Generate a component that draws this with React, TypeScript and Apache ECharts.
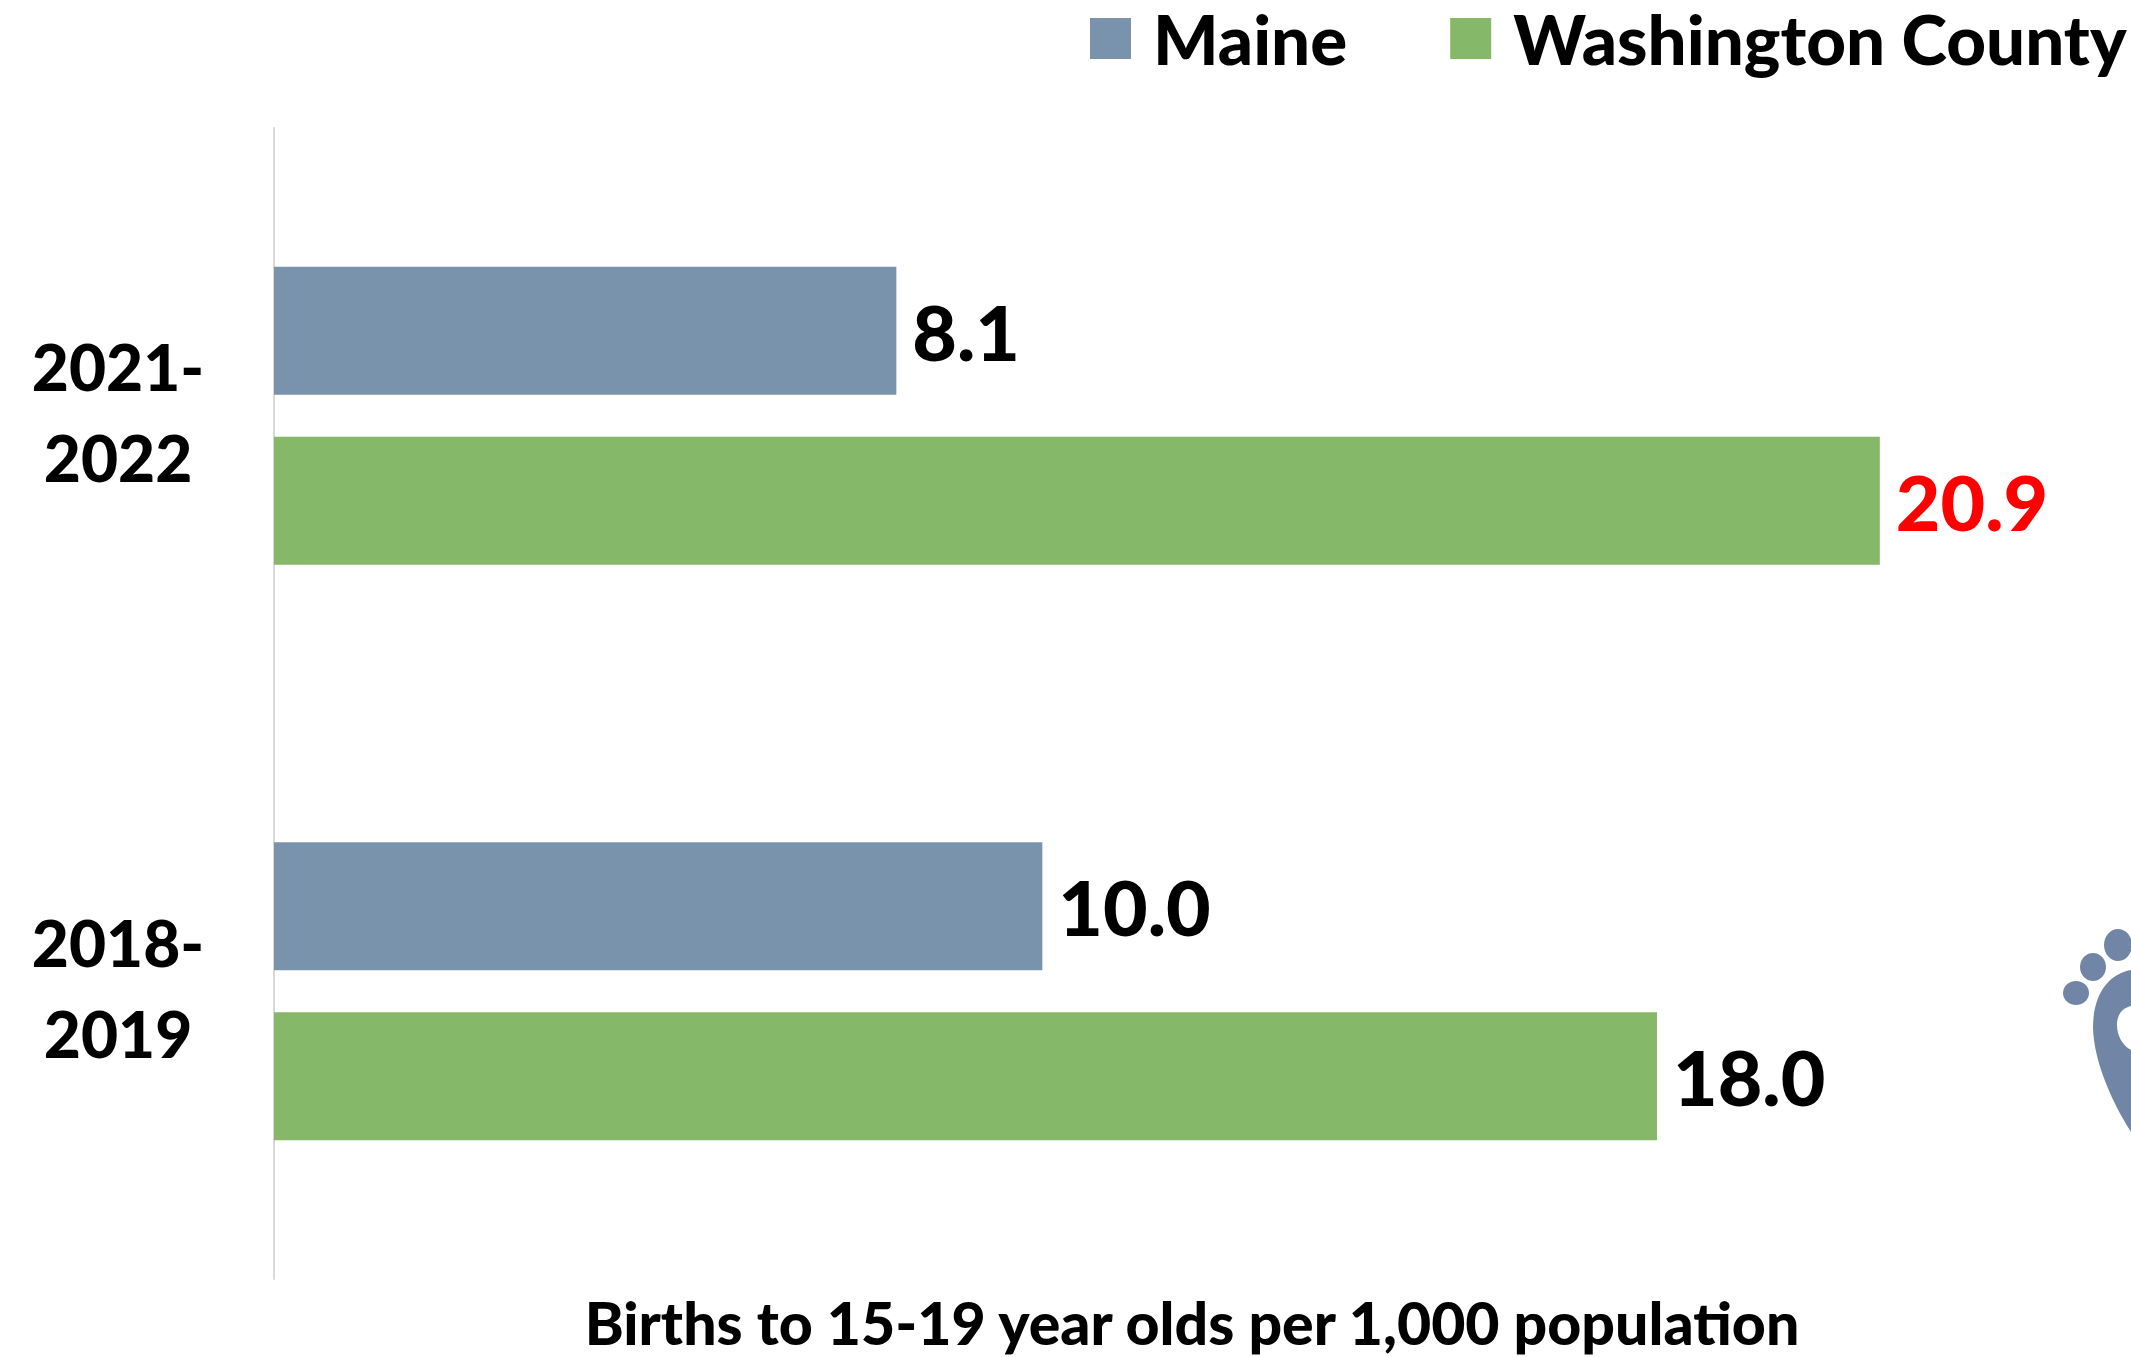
import React, { useEffect, useRef } from "react";
import * as echarts from "echarts";

const categories = ["2021-\n2022", "2018-\n2019"];
const maine = [8.1, 10.0];
const washington = [20.9, 18.0];
const axisTitle = "Births to 15-19 year olds per 1,000 population";
const FONT = "Lato";
const WEIGHT = 900;
const LOGO = "#7186A6";

echarts.graphic.registerShape(
  "footLogo",
  echarts.graphic.extendPath(
    "M2131 970 C2108 974 2093 995 2093 1028 C2094 1062 2112 1102 2131 1132 L2131 1050 C2122 1045 2117 1035 2117 1025 C2117 1015 2122 1008 2131 1006 Z",
    {}
  )
);

export default function App() {
  const ref = useRef<HTMLDivElement>(null);
  useEffect(() => {
    const chart = echarts.init(ref.current!, undefined, { renderer: "svg" });
    chart.setOption({
      animation: false,
      backgroundColor: "#fff",
      grid: { left: 274, top: 128, width: 1844, height: 1151, outerBoundsMode: "none" },
      legend: {
        data: ["Maine", "Washington County"],
        left: 1090,
        top: 4,
        width: 1200,
        padding: 0,
        itemWidth: 41,
        itemHeight: 41,
        itemGap: 103,
        icon: "rect",
        selectedMode: false,
        textStyle: { fontFamily: FONT, fontWeight: WEIGHT, fontSize: 69, color: "#000", padding: [0, 0, 0, 17] },
      },
      xAxis: {
        type: "value",
        min: 0,
        max: 24,
        axisLine: { show: false },
        axisTick: { show: false },
        axisLabel: { show: false },
        splitLine: { show: false },
        name: axisTitle,
        nameLocation: "middle",
        nameGap: 14,
        nameTextStyle: { fontFamily: FONT, fontWeight: WEIGHT, fontSize: 59, color: "#000", padding: [0, 8, 0, 0] },
      },
      yAxis: {
        type: "category",
        inverse: true,
        data: categories,
        axisLine: { show: true, lineStyle: { color: "#d9d9d9", width: 2 } },
        axisTick: { show: false },
        axisLabel: {
          margin: 156,
          align: "center",
          color: "#000",
          formatter: (v: string) =>
            v.split("\n").map((l) => `{a|${l}}`).join("\n") + "\n{s| }",
          rich: {
            a: {
              fontFamily: FONT,
              fontWeight: WEIGHT,
              fontSize: 64,
              lineHeight: 91,
              color: "#000",
              align: "center",
            },
            s: { fontSize: 4, lineHeight: 7 },
          },
        },
      },
      series: [
        {
          name: "Maine",
          type: "bar",
          data: maine,
          barWidth: 128,
          barGap: "33%",
          itemStyle: { color: "#7A93AC" },
          label: {
            show: true,
            position: "right",
            distance: 16,
            formatter: (p: any) => p.value.toFixed(1),
            fontFamily: FONT,
            fontWeight: WEIGHT,
            fontSize: 77,
            color: "#000",
          },
        },
        {
          name: "Washington County",
          type: "bar",
          data: [
            { value: washington[0], label: { color: "#FF0000" } },
            washington[1],
          ],
          barWidth: 128,
          barGap: "33%",
          itemStyle: { color: "#85B868" },
          label: {
            show: true,
            position: "right",
            distance: 16,
            formatter: (p: any) => p.value.toFixed(1),
            fontFamily: FONT,
            fontWeight: WEIGHT,
            fontSize: 77,
            color: "#000",
          },
        },
      ],
      graphic: [
        { type: "ellipse", shape: { cx: 2076, cy: 993, rx: 13, ry: 12 }, style: { fill: LOGO } },
        { type: "ellipse", shape: { cx: 2093, cy: 967, rx: 13, ry: 14 }, style: { fill: LOGO } },
        { type: "ellipse", shape: { cx: 2118, cy: 945, rx: 14, ry: 16 }, style: { fill: LOGO } },
        { type: "footLogo", x: 0, y: 0, style: { fill: LOGO } },
      ],
    });
    return () => chart.dispose();
  }, []);
  return <div ref={ref} style={{ position: "fixed", left: 0, top: 0, width: 2131, height: 1357 }} />;
}
